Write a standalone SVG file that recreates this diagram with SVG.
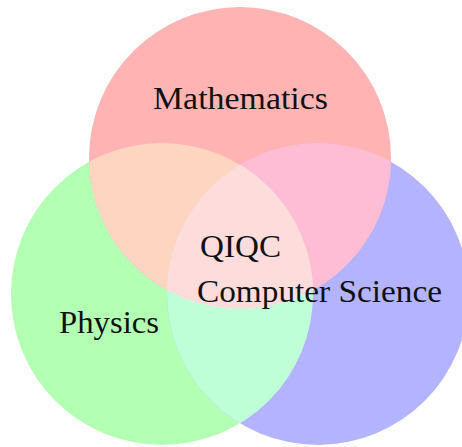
<svg xmlns="http://www.w3.org/2000/svg" xmlns:xlink="http://www.w3.org/1999/xlink" width="462" height="447" viewBox="0 0 462 447">
<style>
.lbl{font-family:"Liberation Serif","Times New Roman",serif;font-size:31px;fill:#111;}
</style>
<defs>
<circle id="cM" cx="240" cy="158" r="151"/>
<circle id="cP" cx="162" cy="294" r="151"/>
<circle id="cC" cx="318" cy="294" r="151"/>
<clipPath id="clipM"><use href="#cM"/></clipPath>
<clipPath id="clipP"><use href="#cP"/></clipPath>
</defs>
<rect width="462" height="447" fill="#ffffff"/>
<g id="node-physics"><use href="#cP" fill="#b3ffb3"/></g>
<g id="node-cs"><use href="#cC" fill="#b3b3ff"/></g>
<g id="node-mathematics"><use href="#cM" fill="#ffb3b3"/></g>
<g id="overlaps">
<use href="#cP" fill="#fed5c0" clip-path="url(#clipM)"/>
<use href="#cC" fill="#ffbdd5" clip-path="url(#clipM)"/>
<use href="#cC" fill="#bfffd7" clip-path="url(#clipP)"/>
<g clip-path="url(#clipM)"><use href="#cC" fill="#ffdcdc" clip-path="url(#clipP)"/></g>
</g>
<g id="labels">
<text class="lbl" x="153" y="109" textLength="175" lengthAdjust="spacingAndGlyphs">Mathematics</text>
<text class="lbl" x="59" y="333" textLength="100" lengthAdjust="spacingAndGlyphs">Physics</text>
<text class="lbl" x="200" y="257" textLength="81" lengthAdjust="spacingAndGlyphs">QIQC</text>
<text class="lbl" x="197" y="302" textLength="245" lengthAdjust="spacingAndGlyphs">Computer Science</text>
</g>
</svg>
